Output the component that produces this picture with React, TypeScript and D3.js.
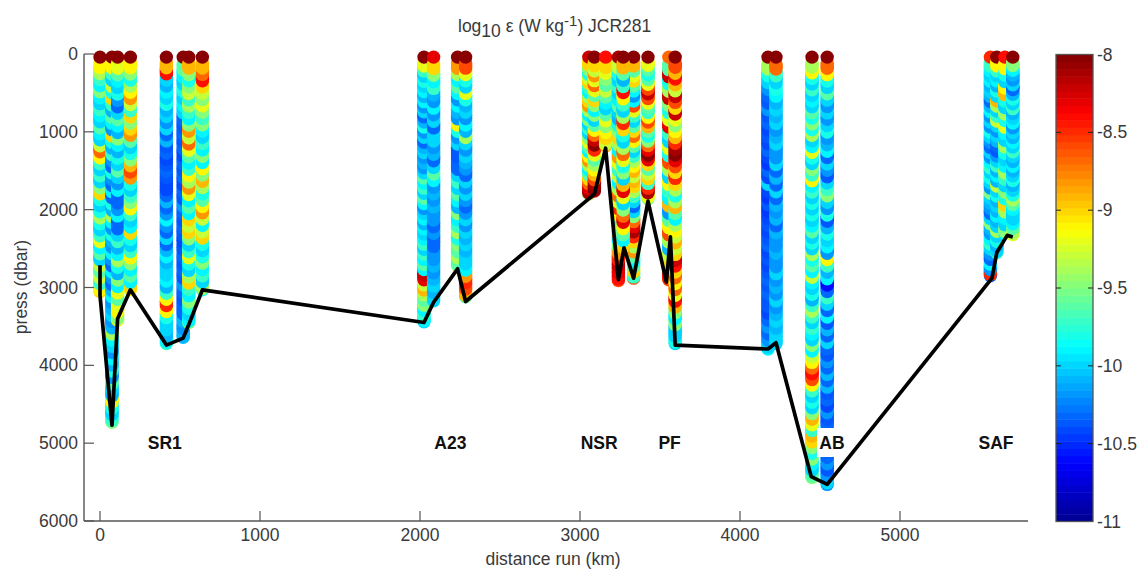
import React from "react";
import * as d3 from "d3";

const W = 1141, H = 569;
const xTicks = [0, 1000, 2000, 3000, 4000, 5000];
const yTicks = [0, 1000, 2000, 3000, 4000, 5000, 6000];
const cTicks = [-8, -8.5, -9, -9.5, -10, -10.5, -11];
const regions = [["SR1", 405], ["A23", 2190], ["NSR", 3120], ["PF", 3560], ["AB", 4575], ["SAF", 5600]] as const;

const s01 = [-8,-9.1,-9.4,-9.7,-9.9,-9.5,-9.9,-10,-9.7,-9.9,-10,-9.6,-9.9,-10,-9.3,-8.7,-9.1,-9.7,-10,-9.7,-10,-9.5,-9,-9.8,-10,-9.8,-9.4,-9.8,-10,-9.7,-9.2,-9.9,-9.6,-10,-9.3,-9.6,-9.3,-9.7,-9.1,-9];
const s02 = [-8,-9.1,-9.7,-10,-9.3,-9.8,-9,-9.7,-10.1,-9.6,-9.9,-10.2,-9,-9.8,-10.1,-9.7,-10.2,-10.3,-9.8,-10.2,-10.3,-9.9,-10.3,-9.8,-10.1,-9.4,-9.9,-10.2,-9.8,-10.1,-10.2,-9.9,-10.2,-10.3,-9.9,-10.2,-10.3,-10.1,-9.9,-10.2,-10.1,-10,-10.2,-10.1,-9.4,-9.9,-10,-10.2,-9.9,-10.1,-9.8,-10.2,-9.6,-10,-10.1,-9.1,-9.8,-10,-9.7,-9.5];
const s03 = [-8,-9.2,-9.6,-9.9,-10,-9.8,-10.2,-10.3,-10,-9.6,-9.9,-10.1,-9.5,-9.9,-10.1,-9.8,-10,-9.6,-10,-10.2,-9.9,-10.3,-10.3,-10.2,-9.9,-10.3,-10.3,-10,-9.7,-10.1,-9.9,-9.4,-9.8,-10.1,-9.5,-9.9,-9.2,-9.6,-9.2,-9.1,-9.5,-9.2];
const s04 = [-8,-9.1,-9.5,-9.8,-9.4,-9.1,-8.8,-9.3,-9.7,-9,-9.5,-9,-8.8,-9.6,-10,-9.8,-9.5,-8.9,-8.6,-8.8,-9.8,-10,-9.7,-9.5,-9.1,-9.7,-10,-9.9,-9,-9.8,-10,-9.7,-9.1,-9.5,-9.9,-9.6,-9.9,-9,-9.1];
const s05 = [-8,-8.9,-8.4,-10,-10.1,-9.9,-10,-9.8,-10.1,-10,-10.2,-10,-10.3,-10.1,-10.35,-10.3,-10.4,-10.35,-10.3,-10.35,-10.4,-10.4,-10.3,-10.1,-10.3,-10.2,-9.9,-10.2,-10.3,-10,-10.3,-10.1,-9.9,-10.1,-10,-10,-9.9,-10.1,-9.7,-9.1,-8.5,-9.1,-9.8,-10,-10,-10.1,-9.9,-9.7];
const s06 = [-8,-9.6,-9.9,-10,-9.8,-10,-9.9,-10,-10.3,-10.35,-10.3,-10.35,-10.3,-10.4,-10.3,-10.35,-10.3,-10.4,-10.3,-10.35,-10.2,-10.3,-10.35,-10.3,-10.35,-10.4,-10.35,-10.3,-10.35,-10.3,-10.35,-10.2,-10.3,-10.35,-10.3,-10.3,-10.1,-10.2,-10.1,-10.1];
const s07 = [-8,-8.9,-9.5,-9.8,-9.5,-9.3,-9.7,-9.4,-9.7,-9.9,-9.5,-8.8,-9.3,-8.7,-9.2,-9.6,-9.9,-9.7,-9.1,-9.4,-8.8,-9.2,-9.9,-9.6,-9.9,-9,-9.3,-9,-9.5,-10,-9.7,-9.2,-9.8,-10,-9.4,-9,-9.7,-9.9,-9.5,-9.8,-10,-9.9,-9.5];
const s08 = [-8,-8.9,-8.7,-8.4,-9,-9.3,-9.5,-9.2,-9.5,-9.7,-9.5,-9.9,-10,-9.7,-9.9,-9.5,-9.9,-9.1,-9.5,-8.9,-9.4,-9.8,-9.6,-9.1,-8.8,-9.3,-9.9,-9.3,-9,-9.8,-10,-9.8,-9.5,-9.9,-9.7,-10,-9.4,-9.8];
const s09 = [-8,-9.2,-9.7,-10,-9.8,-10,-9.9,-10.1,-9.9,-10.2,-10,-10.3,-10.1,-9.8,-10.2,-10,-10.3,-10.1,-10,-10.2,-10.1,-10.2,-10,-9.6,-9.9,-9.7,-10,-9.6,-9.9,-10.2,-10,-9.9,-10.1,-9.9,-10,-9.9,-9.7,-10,-9.7,-9.9,-9.6,-9.9,-8.2,-8.3,-9.3,-8.9,-9.4,-9.6,-9.5,-9.9,-9.7,-9.9,-10];
const s10 = [-8.3,-9,-9.5,-9.9,-9.7,-10.1,-10.2,-9.9,-10.2,-10,-10.3,-10,-10,-10.2,-10.1,-10.3,-10,-9.6,-9.9,-10.2,-10.1,-10.2,-10.1,-10.2,-10.2,-10.3,-10.2,-10.3,-10.3,-10.2,-10.2,-10.1,-10.2,-10.1,-10,-10.1,-10,-10];
const s11 = [-8,-8.8,-9.4,-9.9,-9.6,-9.9,-10.2,-9.9,-10.1,-10.2,-9.1,-9.8,-10.2,-10,-10.35,-10.35,-10.3,-10.3,-10,-9.7,-10,-9.6,-9.9,-10.1,-9.5,-9.9,-9.7,-9.4,-9.8,-9.5,-9.6,-9.4,-9.6,-9.5];
const s12 = [-8,-8.6,-9.2,-9.8,-10,-9.2,-9.8,-10.1,-10,-10.2,-9.9,-10.1,-9.4,-10,-10.2,-10,-10.1,-10.2,-10.3,-10,-10.2,-10,-10.2,-10.3,-10.2,-10,-10.2,-10,-10.1,-10,-10.1,-10,-10,-9.9,-8.8,-8.5,-8.6,-8.9,-9.6];
const s13 = [-8.2,-9,-9.5,-9.8,-9.3,-9,-9.7,-9.9,-9.4,-9,-8.8,-9.4,-9.9,-9.5,-10,-9.7,-10,-9.5,-9.2,-9.6,-9.9,-9.1,-8.8,-9.4,-9.9,-9.6,-9,-8.7,-8.3,-8.1,-9.4];
const s14 = [-8,-9,-9.3,-8.8,-9.2,-8.7,-9.2,-9.6,-9,-9.5,-9.9,-9.5,-10,-9.6,-9.1,-8.7,-8.2,-8,-8.5,-9.2,-9.6,-9.4,-9.1,-8.9,-8.6,-8.1,-8,-8.2];
const s15 = [-8.4,-9,-9.2,-9.5,-9.6,-9.3,-9.6,-9.9,-10,-9.6,-9.2,-9.5,-9.1,-9,-9.3,-8.8];
const s16 = [-8.1,-9.3,-9.8,-10,-9.7,-10,-9.9,-9.6,-10,-10.1,-9.8,-9.5,-9,-9.4,-9.9,-8.8,-9.2,-9.7,-9.3,-9.9,-9.4,-8.7,-9.2,-8.5,-9.1,-9.7,-9.4,-9,-9.9,-9.5,-8.8,-8.5,-8.2,-8.3,-8.4,-8.6];
const s17 = [-8,-8.9,-9.6,-10.1,-9.7,-8.4,-9.1,-9.7,-10,-9.4,-8.5,-9,-9.8,-10,-9.4,-8.7,-9.2,-9.8,-9.5,-10,-8.9,-8.3,-9.2,-10,-9.5,-8.7,-8.3,-9.1,-9.6,-9.9,-9,-8.8];
const s18 = [-8,-8.9,-9.6,-9.2,-9,-9.6,-9.9,-10.2,-9.9,-8.6,-9.2,-9.7,-10,-9.6,-9,-8.7,-9.1,-9.6,-10,-9.7,-9.4,-9.1,-8.9,-9.3,-8.9,-9,-9.4,-9.7,-10,-10.3,-10,-9.5,-8.7,-8.3,-8.1,-8.5,-9,-9.4,-8.8,-9.6,-9.9,-9.6,-9,-9.7,-8.6];
const s19 = [-8,-9.2,-9.6,-9.8,-9.6,-9.2,-8.6,-8.2,-8.6,-9.2,-9.6,-9.7,-9.1,-8.6,-8.9,-9.6,-9.8,-9.5,-8.7,-8.3,-8,-8.3,-9,-9.6,-9.3,-9,-9.7,-8.5,-8.1,-9.2,-9.6];
const s20 = [-8.7,-9.6,-8.2,-9.8,-9.4,-8.2,-9.5,-9.8,-9.2,-8.3,-9.7,-10,-9.2,-9.8,-8.6,-9.4,-10,-9.1,-9.7,-9.9,-8.9,-10.2,-9.6,-9.1,-8.6,-9.4,-10.1,-9.3,-9,-8.7,-8.4,-8.6];
const s21 = [-8,-8.6,-8.9,-8.4,-8.9,-9.3,-8.2,-8.6,-9,-8.2,-9.2,-9.5,-9.1,-8.9,-8.5,-8.1,-8,-8.3,-8.6,-9,-8.5,-9,-9.4,-9.8,-9.4,-8.9,-9.6,-9.9,-9.4,-9.1,-9.3,-8.9,-9.3,-9,-8.2,-8.4,-9,-8.7,-9.1,-8.7,-9.2,-8.4,-8.9,-9.5,-9.9,-9.5,-10,-10,-9.8,-10];
const s22 = [-8,-9.4,-9.8,-10,-10.2,-10.3,-10.35,-10.2,-10.35,-10.3,-10.4,-10.35,-10.4,-10.3,-10.4,-10.45,-10.3,-10.4,-10,-10.4,-10.45,-10.35,-10.45,-10.4,-10.35,-10.4,-10.35,-10.3,-10.4,-10.35,-10.4,-10.35,-10.3,-10.35,-10.3,-10.35,-10.35,-10.4,-10.3,-10.2,-10.3,-10.2,-10,-9.9];
const s23 = [-8,-8.7,-9.7,-10,-9.8,-9.9,-10.1,-10,-10.1,-10,-10.2,-10.1,-10,-10.2,-10.2,-10,-10.3,-10.1,-10.3,-10,-10.3,-10.1,-10.2,-10.1,-10.3,-10.1,-10.2,-10.2,-10.1,-10.2,-10.2,-10,-10.2,-10.1,-10.2,-10,-10.2,-10.1,-10,-10.1,-10,-10,-10];
const s24 = [-8,-9.4,-9.1,-9.8,-10,-9.7,-10,-9.9,-10,-9.6,-9.8,-9.5,-9.8,-9.4,-10,-9.9,-9.2,-9.8,-10,-9.5,-9.7,-9.1,-9.9,-9.7,-10,-9.8,-10,-9.8,-10,-9.9,-9.6,-10,-9.8,-10,-9.4,-9.8,-9.6,-9.9,-9.3,-9.9,-10,-9.8,-10.1,-9.7,-9.4,-9.7,-10,-9.7,-9.9,-10,-9.5,-9.9,-9.3,-9.1,-8.7,-8.4,-8.6,-9.1,-9.7,-10,-9.8,-10,-9.5,-8.9,-9.2,-9.7,-8.9,-9,-9.5,-9.8,-9.5,-9.9,-10,-9.6,-9.5];
const s25 = [-8,-8.7,-9.1,-9.8,-10,-9.6,-10,-10.2,-10,-10.2,-10,-9.8,-10.2,-10.1,-9.9,-10.3,-10,-10.2,-10.35,-10,-9.7,-9.5,-10,-10.2,-9.8,-10.35,-10.1,-9.8,-10,-9.9,-10.2,-9.1,-9.7,-10.1,-9.9,-10.6,-10.3,-9.7,-10,-10.3,-9.9,-10.35,-10.1,-10.3,-10,-10.3,-10.35,-10.2,-10.3,-10.1,-10.3,-10.1,-10.35,-10.3,-10.4,-10.2,-10.35,-10.3,-10,-10.3,-10.4,-10.35,-10.3,-10.2,-10.35,-10.2,-10,-10.2];
const s26 = [-8.5,-9.7,-9.9,-10,-9.9,-10.1,-10,-10.1,-10.3,-10.1,-9.9,-10.2,-10,-10.2,-9.8,-10,-10.2,-10.3,-10,-10.2,-9.9,-9.7,-10,-9.8,-10,-10.2,-9.5,-10,-10.1,-10.2,-10.3,-10,-9.5,-10.1,-10.2,-9.9,-9.7,-10,-10.2,-10.3,-9.9,-10.2,-8.5,-10.3];
const s27 = [-8,-9.1,-9.7,-10,-9.9,-10.1,-9.8,-10,-8.9,-9.4,-10,-9.7,-9.3,-10,-10.2,-10,-10.1,-10.3,-10.35,-10.2,-10,-9.7,-10.1,-9.9,-10.1,-9.3,-10,-9.8,-10.1,-10,-10.1,-9.9,-10.1,-10,-9.4,-10,-9.8,-10.1,-10,-9.7];
const s28 = [-8.4,-9.1,-9.8,-10,-9.1,-8.9,-9.8,-10,-9.4,-9.8,-9.2,-9.9,-10,-9.4,-9.8,-10,-9.9,-9.4,-9.7,-10,-9.5,-9.8,-9,-9.4,-9.9,-10,-9.5,-9.9];
const s29 = [-8,-9.5,-9.9,-10.1,-10.2,-10,-10.3,-10.1,-9.8,-10,-9.7,-10.1,-10,-9.9,-10.2,-10,-10.1,-9.9,-10,-9.7,-10,-10.1,-9.9,-10.1,-10,-9.8,-10.1,-10,-9.8,-9.4,-9.6,-9.9,-10,-10,-9.9,-9.6,-9.4,-9.2];

const profiles = [s01,s02,s03,s04,s05,s06,s07,s08,s09,s10,s11,s12,s13,s14,s15,s16,s17,s18,s19,s20,s21,s22,s23,s24,s25,s26,s27,s28,s29];
const stationKm = [0,75,110,190,415,520,555,640,2025,2085,2235,2285,3055,3090,3160,3240,3270,3335,3425,3555,3595,4175,4225,4450,4545,5565,5605,5655,5705];
const bottomPress = [3050,4730,3420,3030,3720,3640,3450,3030,3440,3170,2720,3120,1800,1760,1180,2910,2500,2880,1860,2900,3720,3790,3720,5440,5530,2850,2550,2300,2320];
const order = [0,1,2,3,4,5,6,7,8,9,10,11,12,13,14,15,17,16,18,19,20,21,22,23,24,25,26,27,28];

const lineKm = [0,0,75,110,190,415,520,560,640,2025,2085,2235,2285,3090,3160,3240,3275,3335,3425,3540,3565,3595,4175,4225,4445,4545,5575,5605,5670,5705];
const linePress = [2715,3100,4770,3400,3030,3740,3650,3450,3030,3450,3190,2760,3180,1800,1210,2900,2490,2880,1890,2930,2350,3740,3790,3710,5430,5530,2880,2550,2330,2350];

const x = d3.scaleLinear().domain([-100, 5800]).range([84, 1028]);
const y = d3.scaleLinear().domain([0, 6000]).range([54, 521]);
const cY = d3.scaleLinear().domain([-8, -11]).range([54.5, 521.5]);
const jet = d3.scaleLinear<string>()
  .domain([-11, -10.625, -9.875, -9.125, -8.375, -8])
  .range(["#00008f", "#0000ff", "#00ffff", "#ffff00", "#ff0000", "#800000"])
  .clamp(true);
const levels = d3.range(64);
const levelValue = (i: number) => -11 + (i + 0.5) * 3 / 64;
const color = (v: number) => jet(levelValue(Math.min(63, Math.floor((v + 11) / 3 * 64))));
const line = d3.line<number>().x((_, i) => x(lineKm[i])).y(d => y(d));

const textFill = "#3a3a3a";
const axisStroke = "#555";
const font = "'Liberation Sans', Arial, sans-serif";
const fs = 17.5;
const substeps = d3.range(3, -1, -1);

export default function App() {
  return (
    <svg width={W} height={H} viewBox={`0 0 ${W} ${H}`} style={{ position: "absolute", left: 0, top: 0, background: "#fff" }} fontFamily={font}>
      <defs>
        <filter id="soft" x="-5%" y="-5%" width="110%" height="110%">
          <feGaussianBlur stdDeviation="0.45" />
        </filter>
      </defs>
      <g filter="url(#soft)">
        {order.map(k => {
          const vals = profiles[k];
          const step = (bottomPress[k] - 40) / (vals.length - 1);
          return (
            <g key={k}>
              {d3.range(vals.length - 1, -1, -1).flatMap(i =>
                (i === 0 || i === vals.length - 1 ? [0] : substeps).map(j => (
                  <circle key={`${i}-${j}`} cx={x(stationKm[k])} cy={y(40 + (i + j / 4) * step)} r={6.7} fill={color(vals[i])} />
                ))
              )}
            </g>
          );
        })}
      </g>
      <rect x={817} y={428} width={29} height={29} fill="#fff" />
      <path d={line(linePress) ?? ""} fill="none" stroke="#000" strokeWidth={3.7} strokeLinejoin="round" />

      <line x1={84} x2={84} y1={54} y2={521} stroke={axisStroke} strokeWidth={1.4} />
      <line x1={84} x2={1028} y1={521} y2={521} stroke={axisStroke} strokeWidth={1.4} />
      {yTicks.map(t => (
        <g key={t}>
          <line x1={84} x2={94} y1={y(t)} y2={y(t)} stroke={axisStroke} strokeWidth={1.2} />
          <text x={78} y={y(t) + 6} textAnchor="end" fontSize={fs} fill={textFill}>{t}</text>
        </g>
      ))}
      {xTicks.map(t => (
        <g key={t}>
          <line x1={x(t)} x2={x(t)} y1={521} y2={511} stroke={axisStroke} strokeWidth={1.2} />
          <text x={x(t)} y={541} textAnchor="middle" fontSize={fs} fill={textFill}>{t}</text>
        </g>
      ))}
      <text x={553} y={565} textAnchor="middle" fontSize={fs} fill={textFill}>distance run (km)</text>
      <text transform="translate(27,287) rotate(-90)" textAnchor="middle" fontSize={fs} fill={textFill}>press (dbar)</text>
      <text x={458} y={32} fontSize={fs} fill={textFill}>
        log<tspan dy={5}>10</tspan><tspan dy={-5}> ε (W kg</tspan><tspan dy={-6} fontSize={15}>-1</tspan><tspan dy={6}>) JCR281</tspan>
      </text>
      {regions.map(([name, km]) => (
        <text key={name} x={x(km)} y={449} textAnchor="middle" fontSize={fs} fontWeight="bold" fill="#111">{name}</text>
      ))}

      {levels.map(i => (
        <rect key={i} x={1056} width={37} y={cY(levelValue(i) + 3 / 128)} height={(cY(-11) - cY(-8)) / 64 + 0.5} fill={jet(levelValue(i))} />
      ))}
      <rect x={1056} y={54.5} width={37} height={467} fill="none" stroke={axisStroke} strokeWidth={1.3} />
      {cTicks.map(t => (
        <g key={t}>
          {t !== -8 && t !== -11 && <line x1={1056} x2={1061} y1={cY(t)} y2={cY(t)} stroke="#222" />}
          {t !== -8 && t !== -11 && <line x1={1088} x2={1093} y1={cY(t)} y2={cY(t)} stroke="#222" />}
          <text x={1097} y={cY(t) + 6} fontSize={fs} fill={textFill}>{t}</text>
        </g>
      ))}
    </svg>
  );
}
